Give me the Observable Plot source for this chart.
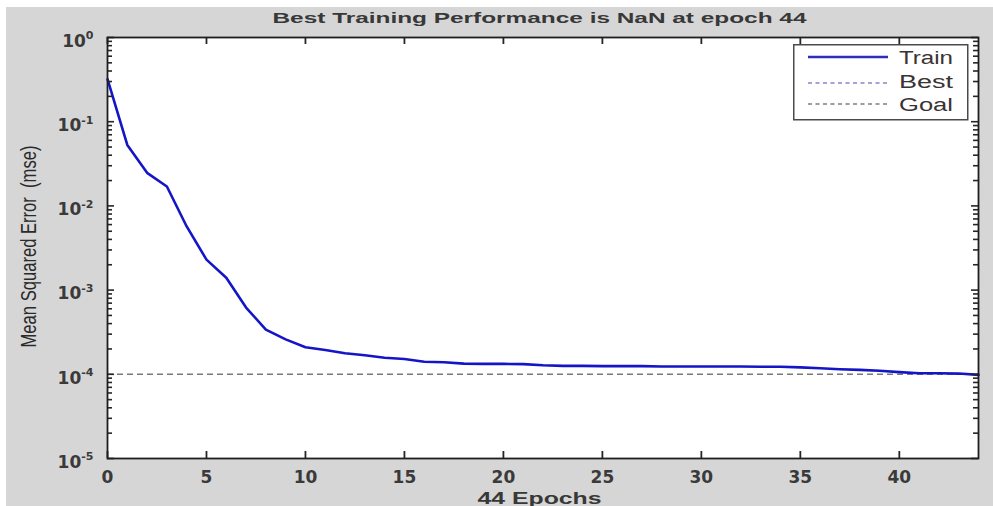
<!DOCTYPE html>
<html>
<head>
<meta charset="utf-8">
<script src="https://cdn.jsdelivr.net/npm/d3@7"></script>
<script src="https://cdn.jsdelivr.net/npm/@observablehq/plot@0.6"></script>
<style>
  html, body { margin: 0; padding: 0; background: #fff; }
  #wrap { position: relative; width: 993px; height: 506px; overflow: hidden; }
  #wrap svg.plot { display: block; }
  #legend { position: absolute; left: 793px; top: 44px; }
</style>
</head>
<body>
<div id="wrap"></div>
<script>
// ---- data ----
const epochs = [0,1,2,3,4,5,6,7,8,9,10,11,12,13,14,15,16,17,18,19,20,21,22,23,24,25,26,27,28,29,30,31,32,33,34,35,36,37,38,39,40,41,42,43,44];
const trainMse = [0.32,0.053,0.0247,0.017,0.0057,0.0023,0.0014,0.00062,0.00034,0.00026,0.00021,0.000194,0.000178,0.000168,0.000157,0.000152,0.000141,0.000139,0.000134,0.000133,0.000133,0.000132,0.000128,0.000126,0.000126,0.000125,0.000125,0.000125,0.000124,0.000124,0.000124,0.000124,0.000124,0.000123,0.000123,0.000121,0.000118,0.000115,0.000113,0.00011,0.000106,0.000103,0.000103,0.000102,0.0000985];
const goal = [1e-4];
const xTicks = [0,5,10,15,20,25,30,35,40];
const yTicks = [1e-5,1e-4,1e-3,1e-2,1e-1,1];
const yTickLabels = ["10^-5","10^-4","10^-3","10^-2","10^-1","10^0"];
const titleText = ["Best Training Performance is NaN at epoch 44"];
const xLabel = ["44 Epochs"];
const yLabel = ["Mean Squared Error  (mse)"];
const legendLabels = ["Train","Best","Goal"];

const rows = epochs.map((e,i) => ({epoch: e, mse: trainMse[i]}));
// minor log ticks (2..9 per decade)
const minorTicks = [];
for (const t of yTicks.slice(0,-1)) for (let k = 2; k <= 9; k++) minorTicks.push(t*k);

const W = 993, H = 506, mL = 107, mR = 15, mT = 37, mB = 48;
const fw = W - mL - mR, fh = H - mT - mB;
const ink = "#262626";

const plot = Plot.plot({
  width: W, height: H,
  marginLeft: mL, marginRight: mR, marginTop: mT, marginBottom: mB,
  x: {domain: [0, 44]},
  y: {type: "log", domain: [1e-5, 1]},
  marks: [
    Plot.frame({fill: "white", stroke: null}),
    Plot.ruleY(goal, {y: d => d, stroke: "#7a7a7a", strokeWidth: 1.6, strokeDasharray: "6,4"}),
    Plot.line(rows, {x: "epoch", y: "mse", stroke: "#1515c8", strokeWidth: 2.6, strokeLinejoin: "round"}),
    // y ticks inward (left/right)
    Plot.tickY(minorTicks, {y: d => d, insetRight: fw - 5, stroke: ink, strokeWidth: 1.6}),
    Plot.tickY(minorTicks, {y: d => d, insetLeft: fw - 5, stroke: ink, strokeWidth: 1.6}),
    Plot.tickY(yTicks, {y: d => d, insetRight: fw - 7, stroke: ink, strokeWidth: 1.6}),
    Plot.tickY(yTicks, {y: d => d, insetLeft: fw - 7, stroke: ink, strokeWidth: 1.6}),
    // x ticks inward (bottom/top)
    Plot.tickX(xTicks, {x: d => d, insetTop: fh - 7, stroke: ink, strokeWidth: 1.8}),
    Plot.tickX(xTicks, {x: d => d, insetBottom: fh - 7, stroke: ink, strokeWidth: 1.8}),
    Plot.frame({stroke: "#1e1e1e", strokeWidth: 1.8}),
    Plot.axisX({ticks: xTicks, tickSize: 0, tickPadding: 12, label: null,
      fontSize: 17, fontFamily: "DejaVu Sans", fontWeight: "bold", fill: "#3a3a3a"}),
    Plot.axisY({ticks: yTicks, tickSize: 0, tickPadding: 14, label: null,
      tickFormat: d => yTickLabels[yTicks.findIndex(t => Math.abs(t - d) / t < 1e-6)],
      fontSize: 17, fontFamily: "DejaVu Sans", fontWeight: "bold", fill: "#3a3a3a"}),
    Plot.text(titleText, {text: d => d, frameAnchor: "top", dx: -3.5, dy: -15, lineAnchor: "bottom",
      fontSize: 15, fontFamily: "Liberation Sans", fontWeight: "bold", fill: "#383838"}),
    Plot.text(xLabel, {text: d => d, frameAnchor: "bottom", dx: -3.5, dy: 45, lineAnchor: "bottom",
      fontSize: 17, fontFamily: "Liberation Sans", fontWeight: "bold", fill: "#383838"}),
    Plot.text(yLabel, {text: d => d, frameAnchor: "left", textAnchor: "middle", dx: -72, dy: -1.5, rotate: -90, lineAnchor: "bottom",
      fontSize: 22, fontFamily: "Liberation Sans", fill: "#2a2a2a"})
  ]
});

plot.classList.add("plot");
plot.style.background = "linear-gradient(#fff,#fff) 0 0/100% 7px no-repeat, linear-gradient(#fff,#fff) 0 0/6px 100% no-repeat, #d6d6d6";
plot.style.overflow = "visible";

// superscript exponents on y tick labels
plot.querySelectorAll('[aria-label="y-axis tick label"] text').forEach(t => {
  const s = t.textContent;
  if (!s.includes("^")) return;
  const [base, exp] = s.split("^");
  t.textContent = base;
  t.setAttribute("y", "0.55em");
  const ts = document.createElementNS("http://www.w3.org/2000/svg", "tspan");
  ts.setAttribute("dy", "-0.68em");
  ts.setAttribute("font-size", "11");
  ts.textContent = exp;
  t.appendChild(ts);
});

// horizontally stretched text like the reference
const stretch = {[titleText[0]]: 534, [xLabel[0]]: 124, [yLabel[0]]: 202};
plot.querySelectorAll("text").forEach(t => {
  const L = stretch[t.textContent];
  if (L) { t.setAttribute("textLength", L); t.setAttribute("lengthAdjust", "spacingAndGlyphs"); }
});

const wrap = document.getElementById("wrap");
wrap.appendChild(plot);

// legend
const leg = d3.create("svg").attr("id", "legend").attr("width", 176).attr("height", 77);
leg.append("rect").attr("x", 0.75).attr("y", 0.75).attr("width", 174).attr("height", 75)
  .attr("fill", "white").attr("stroke", "#4a4a4a").attr("stroke-width", 1.5);
const legStyles = [
  {stroke: "#2d2dc0", dash: null, width: 2.6, ly: 13, ty: 20},
  {stroke: "#8585cc", dash: "4,3.5", width: 1.5, ly: 39, ty: 44},
  {stroke: "#808080", dash: "4,3.5", width: 1.5, ly: 60, ty: 67}
];
legendLabels.forEach((lab, i) => {
  const s = legStyles[i];
  leg.append("line").attr("x1", 15).attr("x2", 95).attr("y1", s.ly).attr("y2", s.ly)
    .attr("stroke", s.stroke).attr("stroke-width", s.width).attr("stroke-dasharray", s.dash);
  leg.append("text").attr("x", 106).attr("y", s.ty)
    .attr("font-family", "Liberation Sans").attr("font-size", 18).attr("fill", "#3a3333")
    .attr("textLength", 54).attr("lengthAdjust", "spacingAndGlyphs").text(lab);
});
wrap.appendChild(leg.node());
</script>
</body>
</html>
